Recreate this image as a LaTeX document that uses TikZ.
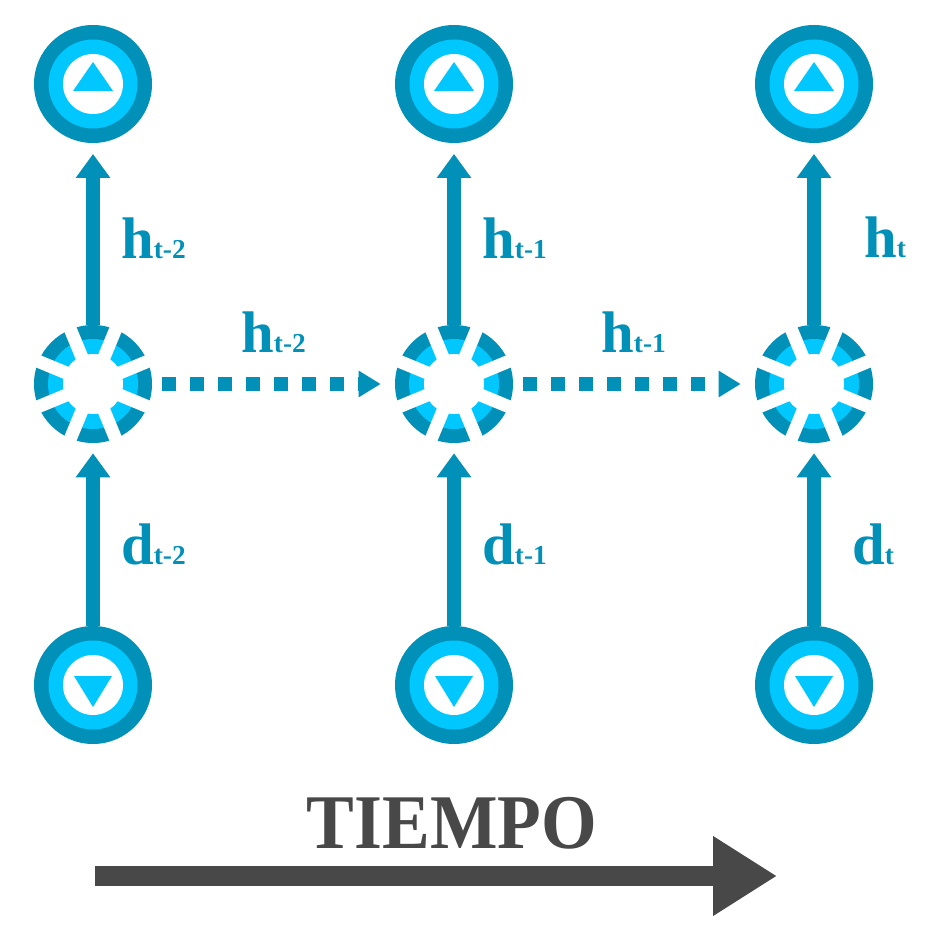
\documentclass[tikz,border=0pt]{standalone}
\usepackage{fontspec}
\setmainfont{Liberation Serif}
\newfontfamily\timefont[FakeStretch=0.925]{Liberation Serif Bold}
\usetikzlibrary{arrows.meta}
\definecolor{tealdark}{HTML}{0090B8}
\definecolor{skylight}{HTML}{00C8FF}
\definecolor{timegray}{HTML}{484848}
\newcommand{\sublabel}[2]{{\fontsize{44}{44}\selectfont #1}{\fontsize{20.5}{20.5}\selectfont #2}}
\newcommand{\cellgaps}[1]{
   \draw[gap] ([shift={(22.5:62)}]#1.center) -- ([shift={(202.5:62)}]#1.center);
   \draw[gap] ([shift={(67.5:62)}]#1.center) -- ([shift={(247.5:62)}]#1.center);
   \draw[gap] ([shift={(112.5:62)}]#1.center) -- ([shift={(292.5:62)}]#1.center);
   \draw[gap] ([shift={(157.5:62)}]#1.center) -- ([shift={(337.5:62)}]#1.center);
}

\begin{document}
\begin{tikzpicture}[x=0.75pt,y=-0.75pt]
   \tikzstyle{ringnode}=[circle, fill=tealdark, inner sep=0pt, minimum size=88.5pt]
   \tikzstyle{outnode}=[ringnode, path picture={
      \fill[skylight] (path picture bounding box.center) circle (44.5);
      \fill[white] (path picture bounding box.center) circle (30);
      \fill[skylight, shift={(path picture bounding box.center)}] (-20,7) -- (0,-22) -- (20,7) -- cycle;}]
   \tikzstyle{innode}=[ringnode, path picture={
      \fill[skylight] (path picture bounding box.center) circle (44.5);
      \fill[white] (path picture bounding box.center) circle (30);
      \fill[skylight, shift={(path picture bounding box.center)}] (-19,-9) -- (0,22) -- (19,-9) -- cycle;}]
   \tikzstyle{cellnode}=[ringnode, path picture={
      \fill[skylight] (path picture bounding box.center) circle (45);
      \fill[white] (path picture bounding box.center) circle (30);}]
   \tikzstyle{gap}=[white, line width=9.75pt]
   \tikzstyle{flow}=[draw=tealdark, line width=10.5pt, -{Triangle[width=24.75pt,length=18pt,fill=tealdark]}]
   \tikzstyle{memory}=[draw=tealdark, line width=10.5pt, dash pattern=on 10.5pt off 10.5pt, shorten <=7.5pt, shorten >=10.5pt, -{Triangle[width=18.75pt,length=16.5pt,fill=tealdark]}]
   \tikzstyle{tag}=[anchor=base west, inner sep=0pt, text=tealdark, font=\bfseries]

\useasboundingbox (0,0) rectangle (935,937);

\node[outnode] (out1) at (93,84) {};
\node[outnode] (out2) at (454,84) {};
\node[outnode] (out3) at (814,84) {};
\node[cellnode] (cell1) at (93,384) {};
\node[cellnode] (cell2) at (454,384) {};
\node[cellnode] (cell3) at (814,384) {};
\node[innode] (in1) at (93,685) {};
\node[innode] (in2) at (454,685) {};
\node[innode] (in3) at (814,685) {};

\cellgaps{cell1}
\cellgaps{cell2}
\cellgaps{cell3}

\draw[flow, shorten >=8pt] (cell1) -- (out1);
\draw[flow, shorten >=8pt] (cell2) -- (out2);
\draw[flow, shorten >=8pt] (cell3) -- (out3);
\draw[flow, shorten >=7.5pt] (in1) -- (cell1);
\draw[flow, shorten >=7.5pt] (in2) -- (cell2);
\draw[flow, shorten >=7.5pt] (in3) -- (cell3);
\draw[memory] (cell1) -- (cell2);
\draw[memory] (cell2) -- (cell3);

\node[tag] (hout1) at (121,259) {\sublabel{h}{t-2}};
\node[tag] (hout2) at (482,259) {\sublabel{h}{t-1}};
\node[tag] (hout3) at (864,258) {\sublabel{h}{t}};
\node[tag] (hmem1) at (241,352) {\sublabel{h}{t-2}};
\node[tag] (hmem2) at (601,352) {\sublabel{h}{t-1}};
\node[tag] (din1) at (121,564) {\sublabel{d}{t-2}};
\node[tag] (din2) at (482,564) {\sublabel{d}{t-1}};
\node[tag] (din3) at (852,564) {\sublabel{d}{t}};

\node[anchor=base, inner sep=0pt, text=timegray, font=\timefont\fontsize{58}{58}\selectfont] (tiempo) at (452,848) {TIEMPO};
\coordinate (timestart) at (95,876);
\coordinate (timeend) at (777,876);
\draw[timegray, line width=15pt, -{Triangle[width=56.5pt,length=48pt,fill=timegray]}] (timestart) -- (timeend);

\end{tikzpicture}
\end{document}
